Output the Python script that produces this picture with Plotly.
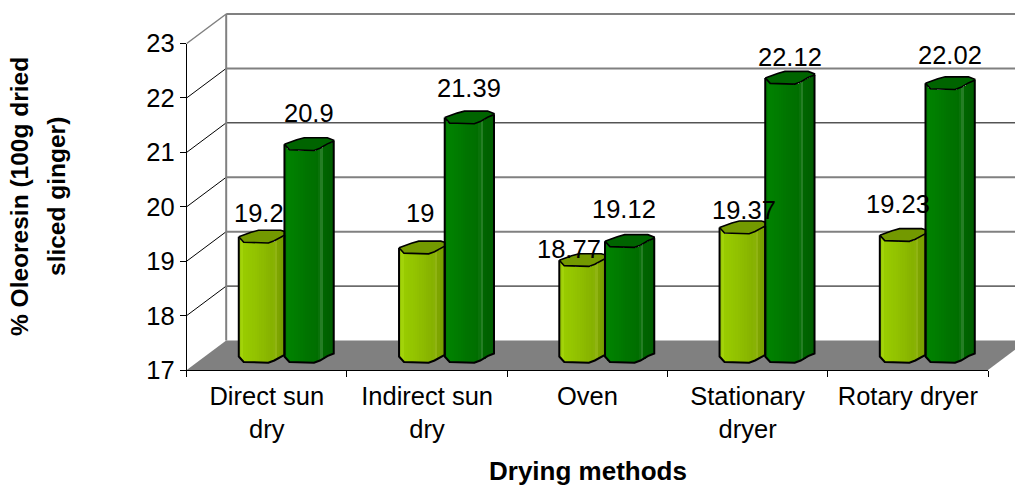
import numpy as np
import plotly.graph_objects as go

categories = ["Direct sun<br>dry", "Indirect sun<br>dry", "Oven", "Stationary<br>dryer", "Rotary dryer"]
light_values = [19.2, 19, 18.77, 19.37, 19.23]
dark_values = [20.9, 21.39, 19.12, 22.12, 22.02]
y_ticks = [17, 18, 19, 20, 21, 22, 23]

# label nudges in pixels (label anchor relative to bar-top centre)
light_label_shift = [(-4, 24), (-4, 35), (-15, 11), (0, 18), (-6, 31)]
dark_label_shift = [(0, 31), (0, 30), (-6, 32), (0, 21), (0, 28)]

W, H = 1015, 487
X0, X1 = 186.7, 988.0      # front plot edge, px
Y17, Y23 = 370.0, 43.5     # front plot edge, px
UX = (X1 - X0) / 5
UY = (Y17 - Y23) / 6
DEPTH_X, DEPTH_Y = 39.5, 29.5
FLOOR = 17 + 13.5 / UY     # bars stand mid-way into the floor
BAR_W = 0.3075
LIGHT_LEFT, DARK_LEFT = 0.325, 0.61
FONT = "Liberation Sans, Arial, sans-serif"

# Faceted cylinder outline, pixel offsets from the section centre line
front_u = [0, 0.1, 0.6, 0.72, 0.85, 1.0]
front_px = [0, 5.5, 6.2, 4.0, 0.0, -3.0]
back_u = [0, 0.1, 0.25, 0.4, 0.87, 1.0]
back_px = [0, -2.0, -4.5, -6.5, -6.5, -4.0]

light_stops = ([0, 0.05, 0.1, 0.35, 0.7, 0.73, 0.78, 1.0],
               ["#90C000", "#A8D810", "#99CC00", "#92C200", "#85B000", "#9CBE20", "#7FA600", "#739900"])
dark_stops = ([0, 0.05, 0.15, 0.45, 0.7, 0.73, 0.78, 1.0],
              ["#007800", "#008200", "#008000", "#007400", "#006E00", "#3E8E3E", "#006600", "#005C00"])


def hex2rgb(h):
    return np.array([int(h[i:i + 2], 16) for i in (1, 3, 5)], float)


def band_colour(stops, u):
    pos, cols = stops
    rgb = np.array([hex2rgb(c) for c in cols])
    return "rgb(%d,%d,%d)" % tuple(np.interp(u, pos, rgb[:, k]) for k in range(3))


def front(u):
    return np.interp(u, front_u, front_px) / UY


def back(u):
    return np.interp(u, back_u, back_px) / UY


def px(v):
    return (X0 + v * UX) / W


def py(v, depth=0.0):
    return 1 - (Y17 - (v - 17) * UY - depth) / H


fig = go.Figure()
N_STRIPS = 22
for values, left, stops, cap, umax in (
    (light_values, LIGHT_LEFT, light_stops, "#739900", (DARK_LEFT - LIGHT_LEFT) / BAR_W),
    (dark_values, DARK_LEFT, dark_stops, "#006400", 1.0),
):
    # the cylinder body: narrow vertical bars give its shading
    vals = np.array(values, float)
    for s in range(N_STRIPS):
        u = (s + 0.5) / N_STRIPS
        fig.add_trace(go.Bar(
            x=np.arange(5) + left + u * BAR_W,
            y=vals - 17,
            base=FLOOR - front(u),
            width=BAR_W / N_STRIPS * 1.15,
            marker=dict(color=band_colour(stops, u), line_width=0),
            showlegend=False, hoverinfo="skip",
        ))
    us = np.unique(np.concatenate([front_u, back_u, [umax]]))
    us = us[us <= umax]
    for i, v in enumerate(values):
        xs = i + left + us * BAR_W
        top_f = v + (FLOOR - 17) - front(us)
        top_b = v + (FLOOR - 17) - back(us)
        bot_f = FLOOR - front(us)
        # body outline
        fig.add_trace(go.Scatter(
            x=np.r_[xs[0], xs, xs[-1]], y=np.r_[top_f[0], bot_f, top_f[-1]],
            mode="lines", line=dict(color="black", width=2, shape="linear"),
            showlegend=False, hoverinfo="skip",
        ))
        # top cap
        fig.add_trace(go.Scatter(
            x=np.r_[xs, xs[::-1]], y=np.r_[top_f, top_b[::-1]],
            mode="lines", fill="toself", fillcolor=cap,
            line=dict(color="black", width=1.6),
            showlegend=False, hoverinfo="skip",
        ))

# Walls, floor and back grid, laid behind the bars
shapes = []
shapes.append(dict(type="path", layer="below", xref="paper", yref="paper", line_width=0, fillcolor="#808080",
                   path=f"M{px(0)},{py(17)} L{(X0 + DEPTH_X) / W},{py(17, DEPTH_Y)} "
                        f"L{(X1 + DEPTH_X) / W},{py(17, DEPTH_Y)} L{px(5)},{py(17)} Z"))
for t in y_ticks:
    dark_line = t in (18, 21)
    if t > 17:
        shapes.append(dict(type="line", layer="below", xref="paper", yref="paper",
                           x0=(X0 + DEPTH_X) / W, x1=1, y0=py(t, DEPTH_Y), y1=py(t, DEPTH_Y),
                           line=dict(color="black" if dark_line else "#808080", width=1 if dark_line else 2)))
    if t > 17:
        shapes.append(dict(type="line", layer="below", xref="paper", yref="paper",
                           x0=px(0), x1=(X0 + DEPTH_X) / W, y0=py(t), y1=py(t, DEPTH_Y),
                           line=dict(color="#808080" if t == 23 else "black", width=1.5 if t == 23 else 1)))
shapes.append(dict(type="line", layer="below", xref="paper", yref="paper",
                   x0=(X0 + DEPTH_X) / W, x1=(X0 + DEPTH_X) / W, y0=py(17, DEPTH_Y), y1=py(23, DEPTH_Y),
                   line=dict(color="#808080", width=2)))

annotations = []
for values, left, shifts in ((light_values, LIGHT_LEFT, light_label_shift),
                             (dark_values, DARK_LEFT, dark_label_shift)):
    for i, v in enumerate(values):
        annotations.append(dict(
            x=i + left + BAR_W / 2, y=v + (FLOOR - 17), xref="x", yref="y", text=f"{v:g}",
            showarrow=False, xanchor="center", yanchor="middle",
            xshift=shifts[i][0], yshift=shifts[i][1],
            font=dict(family=FONT, size=25.5, color="black"),
        ))
annotations.append(dict(x=588 / W, y=1 - 471 / H, xref="paper", yref="paper", text="<b>Drying methods</b>",
                        showarrow=False, xanchor="center", yanchor="middle",
                        font=dict(family=FONT, size=26, color="black")))
for txt, xp in (("<b>% Oleoresin (100g dried</b>", 20), ("<b>sliced ginger)</b>", 57)):
    annotations.append(dict(x=xp / W, y=1 - 197 / H, xref="paper", yref="paper", text=txt, textangle=-90,
                            showarrow=False, xanchor="center", yanchor="middle",
                            font=dict(family=FONT, size=24.5, color="black")))

fig.update_layout(
    width=W, height=H, margin=dict(l=0, r=0, t=0, b=0), autosize=False,
    paper_bgcolor="white", plot_bgcolor="rgba(0,0,0,0)", barmode="overlay", bargap=0,
    showlegend=False, shapes=shapes, annotations=annotations,
    font=dict(family=FONT, size=25, color="black"),
    xaxis=dict(
        domain=[X0 / W, X1 / W], range=[0, 5], showgrid=False, zeroline=False, automargin=False,
        tickmode="array", tickvals=np.arange(5) + 0.5, ticktext=categories, ticks="",
        showline=True, linecolor="black", linewidth=1,
        minor=dict(ticks="outside", tick0=0, dtick=1, ticklen=6, tickcolor="black", tickwidth=1),
        tickfont=dict(family=FONT, size=25.5), ticklabelstandoff=3,
    ),
    yaxis=dict(
        domain=[1 - Y17 / H, 1 - Y23 / H], range=[17, 23], showgrid=False, zeroline=False, automargin=False,
        tickmode="array", tickvals=y_ticks, ticks="outside", ticklen=6, tickcolor="black",
        showline=True, linecolor="black", linewidth=1,
        tickfont=dict(family=FONT, size=25.5),
    ),
)

fig.write_html("out.html", config={"displayModeBar": False},
               post_script="document.body.style.margin='0';document.body.style.overflow='hidden';")
